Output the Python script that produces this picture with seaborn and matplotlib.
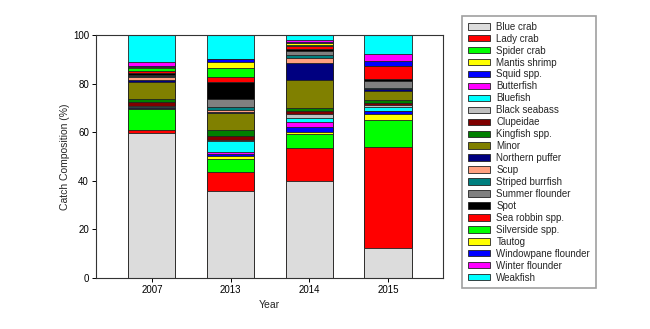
import matplotlib
matplotlib.use("Agg")
import matplotlib.pyplot as plt
import seaborn as sns
import numpy as np
import pandas as pd
from matplotlib.patches import Patch

years = ["2007", "2013", "2014", "2015"]

species = ["Blue crab", "Lady crab", "Spider crab", "Mantis shrimp", "Squid spp.",
           "Butterfish", "Bluefish", "Black seabass", "Clupeidae", "Kingfish spp.",
           "Minor", "Northern puffer", "Scup", "Striped burrfish", "Summer flounder",
           "Spot", "Sea robbin spp.", "Silverside spp.", "Tautog",
           "Windowpane flounder", "Winter flounder", "Weakfish"]

colors = ["#DCDCDC", "#FF0000", "#00FF00", "#FFFF00", "#0000FF",
          "#FF00FF", "#00FFFF", "#C0C0C0", "#800000", "#008000",
          "#808000", "#000080", "#FFA080", "#008080", "#808080",
          "#000000", "#FF0000", "#00FF00", "#FFFF00",
          "#0000FF", "#FF00FF", "#00FFFF"]

# values per species for 2007, 2013, 2014, 2015 (%)
blue_crab       = [59.0, 35.7, 39.8, 12.2]
lady_crab       = [1.1, 7.9, 13.5, 41.7]
spider_crab     = [8.9, 5.5, 5.8, 11.0]
mantis_shrimp   = [0.0, 1.0, 0.9, 2.7]
squid           = [0.3, 0.8, 2.0, 1.1]
butterfish      = [0.0, 0.9, 2.1, 0.0]
bluefish        = [0.5, 4.5, 1.5, 1.6]
black_seabass   = [0.3, 0.7, 1.6, 0.7]
clupeidae       = [1.5, 1.6, 1.2, 0.9]
kingfish        = [1.4, 2.5, 1.4, 1.5]
minor           = [6.8, 6.8, 11.2, 3.4]
northern_puffer = [1.0, 0.4, 7.0, 0.8]
scup            = [1.2, 1.1, 2.0, 0.2]
burrfish        = [0.3, 1.1, 1.2, 0.5]
summer_flounder = [0.6, 3.2, 2.0, 2.7]
spot            = [0.6, 7.1, 0.8, 1.0]
sea_robbin      = [0.8, 1.8, 1.2, 5.2]
silverside      = [1.2, 4.1, 0.3, 0.0]
tautog          = [0.5, 2.3, 0.8, 0.0]
windowpane      = [0.4, 1.1, 0.3, 2.3]
winter_flounder = [1.4, 0.2, 1.0, 2.6]
weakfish        = [11.2, 9.8, 2.0, 7.9]

values = [blue_crab, lady_crab, spider_crab, mantis_shrimp, squid, butterfish,
          bluefish, black_seabass, clupeidae, kingfish, minor, northern_puffer,
          scup, burrfish, summer_flounder, spot, sea_robbin, silverside, tautog,
          windowpane, winter_flounder, weakfish]

vals = np.array(values, dtype=float)
vals = vals / vals.sum(axis=0) * 100.0
cum = np.cumsum(vals, axis=0)

sns.set_style("white")
plt.rcParams["font.family"] = ["Liberation Sans", "DejaVu Sans"]

fig = plt.figure(figsize=(6.5, 3.29), dpi=100)
ax = fig.add_axes([96/650, 1-278/329, (443-96)/650, (278-35)/329])

# draw cumulative totals from top layer down so each layer overlays the previous
for i in range(len(species) - 1, -1, -1):
    df = pd.DataFrame({"Year": years, "Cum": cum[i]})
    sns.barplot(data=df, x="Year", y="Cum", color=colors[i], saturation=1,
                width=0.6, edgecolor="#222222", linewidth=0.6, ax=ax, errorbar=None)

ax.set_xlim(-0.71, 3.7)
ax.set_ylim(0, 100)
ax.set_yticks([0, 20, 40, 60, 80, 100])
ax.set_xlabel("Year", fontsize=7.5, labelpad=4)
ax.set_ylabel("Catch Composition (%)", fontsize=7.5, labelpad=2)
ax.tick_params(axis="both", labelsize=7, direction="out", length=3, width=0.7,
               pad=2, left=True, bottom=True, colors="black")
for s in ax.spines.values():
    s.set_visible(True)
    s.set_color("#333333")
    s.set_linewidth(0.8)

handles = [Patch(facecolor=c, edgecolor="#222222", linewidth=0.6) for c in colors]
leg = fig.legend(handles, species, loc="upper left",
                 bbox_to_anchor=(457/650, 1-11/329), fontsize=7,
                 frameon=True, fancybox=False, handlelength=2.3, handleheight=0.65,
                 labelspacing=0.2, borderpad=0.6, handletextpad=0.65)
leg.get_frame().set_edgecolor("#888888")
leg.get_frame().set_linewidth(1.2)

fig.savefig("out.png", dpi=100)
